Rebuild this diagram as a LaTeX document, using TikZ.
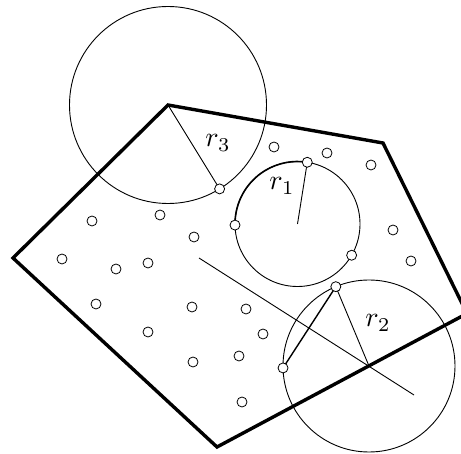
\documentclass[tikz,border=0pt]{standalone}
\usetikzlibrary{calc}
\begin{document}
\begin{tikzpicture}[x=1pt,y=-1pt,
  thin line/.style={line width=0.9pt},
  hull/.style={line width=3.4pt,line join=miter},
  pt/.style={circle,draw,fill=white,line width=0.8pt,inner sep=0pt,minimum size=10pt},
  lbl/.style={scale=2.8,inner sep=0pt}]
\useasboundingbox (0,0) rectangle (461,454);
\clip (0,0) rectangle (461,454);
% centers
\coordinate (C1) at (297.5,224);
\coordinate (C2) at (369,366);
\coordinate (C3) at (168,105);
% polygon vertices
\coordinate (V1) at (168,105);
\coordinate (V2) at (383,143);
\coordinate (V3) at (467,313.5);
\coordinate (V4) at (217,447);
\coordinate (V5) at (13,258);
% points on circles
\coordinate (Pa) at ($(C1)+(279:62.5)$);
\coordinate (Pb) at ($(C1)+(179:62.5)$);
\coordinate (Pc) at ($(C1)+(30:62.5)$);
\coordinate (Pd) at ($(C2)+(247.3:86)$);
\coordinate (Pe) at ($(C2)+(178.7:86)$);
\coordinate (Pf) at ($(C3)+(58.4:98.5)$);
% bisector ends
\coordinate (B1) at (199,258);
\coordinate (B2) at (414,395);
% circles
\draw[thin line] (C1) circle[radius=62.5];
\draw[line width=1.6pt] (Pb) arc[start angle=179,end angle=279,radius=62.5];
\draw[thin line] (C2) circle[radius=86];
\draw[thin line] (C3) circle[radius=98.5];
% lines
\draw[thin line] (C1) -- (Pa);
\draw[thin line] (C2) -- (Pd);
\draw[thin line] (C3) -- (Pf);
\draw[line width=1.4pt] (Pd) -- (Pe);
\draw[thin line] (B1) -- (B2);
% polygon
\draw[hull] (V1) -- (V2) -- (V3) -- (V4) -- (V5) -- cycle;
% labels
\node[lbl] (L3) at (218,143) {$r_3$};
\node[lbl] (L1) at (282,186) {$r_1$};
\node[lbl] (L2) at (378,323) {$r_2$};
% points
\foreach \n/\p in {a/Pa,b/Pb,c/Pc,d/Pd,e/Pe,f/Pf}
  \node[pt] (n\n) at (\p) {};
\foreach \x/\y [count=\i] in {274/147,327/153,371/165,393/230,411/261,
  92/221,160/215,194/237,62/259,116/269,148/263,
  192/307,246/309,263/334,193/362,239/356,242/402,96/304,148/332}
  \node[pt] (q\i) at (\x,\y) {};
\end{tikzpicture}
\end{document}
